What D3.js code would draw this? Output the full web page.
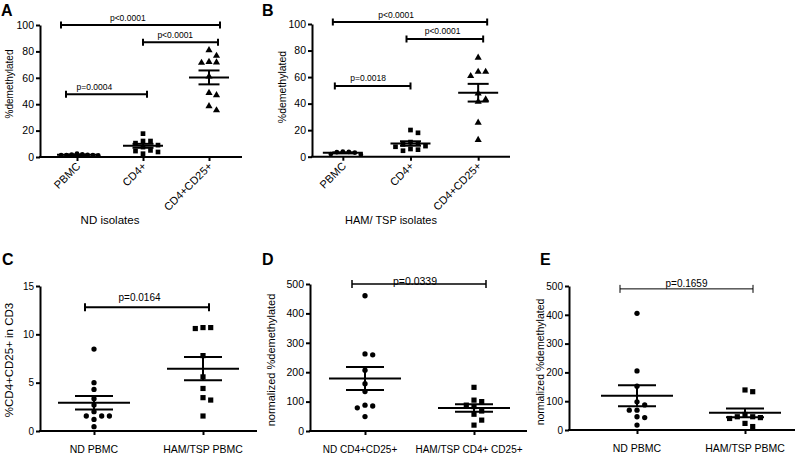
<!DOCTYPE html>
<html><head><meta charset="utf-8">
<script src="https://cdn.jsdelivr.net/npm/d3@7"></script>
<style>
body{margin:0;background:#fff}
svg{display:block}
text{font-family:"Liberation Sans",Arial,Helvetica,sans-serif;fill:#000}
</style>
</head><body>
<svg id="chart" width="800" height="463"></svg>
<script>
// ---------------- DATA ----------------
const catsIsolates = ["PBMC", "CD4+", "CD4+CD25+"];
const ticksPct = [0, 20, 40, 60, 80, 100];

// Panel A – ND isolates (%demethylated)
const aPBMC = [2.6, 2.0, 1.8, 1.6, 1.5, 1.5, 1.4, 1.3];
const aCD4 = [17.7, 12.1, 12.1, 10.5, 9, 7.5, 5, 4.5, 3.8, 2.5];
const aCD4CD25 = [81, 76.7, 72, 71.6, 71.4, 61, 48.6, 46.8, 38.5, 35.4];
const aBrFrom = ["PBMC", "CD4+", "PBMC"];
const aBrTo = ["CD4+CD25+", "CD4+CD25+", "CD4+"];
const aBrLevel = [100, 87, 47.5];
const aBrLabel = ["p<0.0001", "p<0.0001", "p=0.0004"];

// Panel B – HAM/TSP isolates (%demethylated)
const bPBMC = [3.8, 3.6, 3.4, 3.0, 2.0, 1.5];
const bCD4 = [20.1, 18, 11, 10, 9.3, 8, 7.5, 5.8, 4.5, 5.3];
const bCD4CD25 = [74.6, 64, 64, 60.8, 47.7, 43.2, 41.5, 25.6, 12.6];
const bBrFrom = ["PBMC", "CD4+", "PBMC"];
const bBrTo = ["CD4+CD25+", "CD4+CD25+", "CD4+"];
const bBrLevel = [101.5, 88.7, 53.3];
const bBrLabel = ["p<0.0001", "p<0.0001", "p=0.0018"];

// Panel C – %CD4+CD25+ in CD3
const catsC = ["ND PBMC", "HAM/TSP PBMC"];
const ticksC = [0, 5, 10, 15];
const cND = [8.48, 5.0, 4.3, 3.34, 2.7, 2.0, 1.55, 1.55, 1.55, 1.2, 0.45];
const cHAM = [10.7, 10.6, 10.7, 7.8, 5.6, 4.4, 3.45, 3.2, 1.55];
const cBrLevel = [12.8];
const cBrLabel = ["p=0.0164"];

// Panel D – normalized %demethylated, CD4+CD25+
const catsD = ["ND CD4+CD25+", "HAM/TSP CD4+ CD25+"];
const ticksNorm = [0, 100, 200, 300, 400, 500];
const dND = [460, 259, 262, 207, 161, 134, 85, 79, 88, 49];
const dHAM = [148.5, 105, 100, 88, 83, 68, 57, 37, 20];
const dBrLevel = [500];
const dBrLabel = ["p=0.0339"];

// Panel E – normalized %demethylated, PBMC
const catsE = ["ND PBMC", "HAM/TSP PBMC"];
const eND = [405, 205, 152, 87, 98, 69, 69, 46, 43, 17];
const eHAM = [133, 139, 46, 46, 54, 43, 23, 12, 40];
const eBrLevel = [490];
const eBrLabel = ["p=0.1659"];

// ---------------- DRAWING ----------------
const svg = d3.select("#chart");
svg.append("rect").attr("width", 800).attr("height", 463).attr("fill", "#fff");

function dodge(vals, y, step, thresh) {
  const order = vals.map((v, i) => i).sort((a, b) => vals[b] - vals[a]);
  const placed = [];
  const off = new Array(vals.length);
  for (const i of order) {
    const py = y(vals[i]);
    let done = false;
    for (let k = 0; !done && k < 50; k++) {
      const cands = k === 0 ? [0] : [k, -k];
      for (const c of cands) {
        const ox = c * step;
        const hit = placed.some(p => Math.abs(p.y - py) < thresh && Math.abs(p.x - ox) < step * 0.99);
        if (!hit) { off[i] = ox; placed.push({x: ox, y: py}); done = true; break; }
      }
    }
  }
  return off;
}

function panel(o) {
  const g = svg.append("g");
  const y = d3.scaleLinear().domain(o.domain).range([o.yBottom, o.yTop]);
  const x = d3.scalePoint().domain(o.cats).range(o.xr).padding(0.5);

  // Y axis
  const ya = g.append("g").attr("transform", `translate(${o.ax0},0)`)
    .call(d3.axisLeft(y).tickValues(o.ticks).tickSize(4).tickSizeOuter(0).tickPadding(2));
  ya.select(".domain").attr("stroke-width", 2).attr("stroke", "#000");
  ya.selectAll(".tick line").attr("stroke-width", 2).attr("stroke", "#000");
  ya.selectAll(".tick text").attr("font-size", o.tickFont).attr("font-family", null).attr("fill", "#000");

  // X axis
  const xa = g.append("g").attr("transform", `translate(0,${o.yBottom})`)
    .call(d3.axisBottom(x).tickSize(4).tickSizeOuter(0).tickFormat(""));
  xa.select(".domain").remove();
  xa.selectAll(".tick line").attr("stroke-width", 2).attr("stroke", "#000");
  g.append("line").attr("x1", o.ax0 - 1).attr("x2", o.ax1).attr("y1", o.yBottom).attr("y2", o.yBottom)
    .attr("stroke", "#000").attr("stroke-width", 2);

  // X labels
  o.cats.forEach(c => {
    if (o.rotLabels) {
      g.append("text").attr("text-anchor", "end").attr("font-size", o.xFont)
        .attr("transform", `translate(${x(c) + 4},${o.yBottom + 10}) rotate(-45)`).text(c);
    } else {
      g.append("text").attr("text-anchor", "middle").attr("font-size", o.xFont)
        .attr("x", x(c) + (o.xLabelShift || 0)).attr("y", o.yBottom + 22).text(c);
    }
  });

  // Points
  o.series.forEach((vals, gi) => {
    const c = o.cats[gi];
    const sym = o.symbols[gi];
    const offs = dodge(vals, y, o.steps[gi], o.thresh);
    g.append("g").selectAll("path").data(vals).join("path")
      .attr("d", d3.symbol().type(sym.type).size(sym.size))
      .attr("transform", (d, i) => `translate(${x(c) + offs[i]},${y(d)})`)
      .attr("fill", "#000");
    const m = d3.mean(vals);
    const s = d3.deviation(vals) / Math.sqrt(vals.length);
    const cx = x(c);
    const lw = o.meanW;
    g.append("line").attr("x1", cx - o.mh).attr("x2", cx + o.mh).attr("y1", y(m)).attr("y2", y(m))
      .attr("stroke", "#000").attr("stroke-width", lw);
    g.append("line").attr("x1", cx).attr("x2", cx).attr("y1", y(m - s)).attr("y2", y(m + s))
      .attr("stroke", "#000").attr("stroke-width", lw);
    [m - s, m + s].forEach(v => g.append("line").attr("x1", cx - o.sh).attr("x2", cx + o.sh)
      .attr("y1", y(v)).attr("y2", y(v)).attr("stroke", "#000").attr("stroke-width", lw));
  });

  // Brackets
  o.brLevel.forEach((lv, i) => {
    const xa0 = x(o.brFrom[i]) + o.brPad[i][0];
    const xb0 = x(o.brTo[i]) + o.brPad[i][1];
    const yy = y(lv);
    const bg = g.append("g").attr("stroke", "#000").attr("stroke-width", o.brW);
    bg.append("line").attr("x1", xa0).attr("x2", xb0).attr("y1", yy).attr("y2", yy);
    bg.append("line").attr("x1", xa0).attr("x2", xa0).attr("y1", yy - o.capH).attr("y2", yy + o.capH);
    bg.append("line").attr("x1", xb0).attr("x2", xb0).attr("y1", yy - o.capH).attr("y2", yy + o.capH);
    g.append("text").attr("text-anchor", "middle").attr("font-size", o.pFont)
      .attr("x", xa0 + o.brLp[i] * (xb0 - xa0)).attr("y", yy - o.pGap).text(o.brLabel[i]);
  });

  // Y label
  g.append("text").attr("text-anchor", "middle").attr("font-size", o.yFont)
    .attr("transform", `translate(${o.yLabX},${o.yLabY}) rotate(-90)`).text(o.yLabel);

  // Panel letter
  g.append("text").attr("x", o.letterX).attr("y", o.letterY).attr("font-size", 16)
    .attr("font-weight", "bold").text(o.letter);

  if (o.title) {
    g.append("text").attr("text-anchor", "middle").attr("font-size", o.titleFont)
      .attr("x", o.titleX).attr("y", o.titleY).text(o.title);
  }
}

const circ = {type: d3.symbolCircle, size: 18};
const sq = {type: d3.symbolSquare, size: 22};
const tri = {type: d3.symbolTriangle, size: 22};
const circL = {type: d3.symbolCircle, size: 22};
const sqL = {type: d3.symbolSquare, size: 27};

panel({
  letter: "A", letterX: 1, letterY: 16,
  cats: catsIsolates, series: [aPBMC, aCD4, aCD4CD25], symbols: [circ, sq, tri], steps: [5.3, 7.5, 7.5], thresh: 6,
  domain: [0, 100], ticks: ticksPct, yBottom: 157, yTop: 25, ax0: 40, ax1: 242, xr: [44, 242],
  tickFont: 10.5, xFont: 11, rotLabels: true, mh: 20, sh: 10.5, meanW: 2,
  brFrom: aBrFrom, brTo: aBrTo, brLevel: aBrLevel, brLabel: aBrLabel,
  brPad: [[-16, 11], [0, 9], [-11, 4]], brLp: [0.42, 0.43, 0.35], brW: 2, capH: 3.5, pFont: 8.5, pGap: 4.5,
  yLabel: "%demethylated", yFont: 10, yLabX: 13, yLabY: 84,
  title: "ND isolates", titleX: 110, titleY: 224, titleFont: 11.5
});

panel({
  letter: "B", letterX: 262, letterY: 16,
  cats: catsIsolates, series: [bPBMC, bCD4, bCD4CD25], symbols: [circ, sq, tri], steps: [6, 7.5, 7.5], thresh: 6,
  domain: [0, 100], ticks: ticksPct, yBottom: 156.7, yTop: 24, ax0: 312, ax1: 510, xr: [309, 512],
  tickFont: 10.5, xFont: 11, rotLabels: true, mh: 20, sh: 10.5, meanW: 2,
  brFrom: bBrFrom, brTo: bBrTo, brLevel: bBrLevel, brLabel: bBrLabel,
  brPad: [[-10, 9], [-4, 5], [-8, 0]], brLp: [0.41, 0.47, 0.44], brW: 2, capH: 3.5, pFont: 8.5, pGap: 4.5,
  yLabel: "%demethylated", yFont: 10.5, yLabX: 286, yLabY: 87,
  title: "HAM/ TSP isolates", titleX: 391, titleY: 224, titleFont: 11
});

panel({
  letter: "C", letterX: 2, letterY: 265,
  cats: catsC, series: [cND, cHAM], symbols: [circL, sqL], steps: [7.7, 7.7], thresh: 6,
  domain: [0, 15], ticks: ticksC, yBottom: 431, yTop: 286, ax0: 40, ax1: 257, xr: [39.5, 257.5],
  tickFont: 10, xFont: 10.5, rotLabels: false, mh: 36, sh: 19, meanW: 2,
  brFrom: ["ND PBMC"], brTo: ["HAM/TSP PBMC"], brLevel: cBrLevel, brLabel: cBrLabel,
  brPad: [[-9, 6]], brLp: [0.44], brW: 2, capH: 4, pFont: 10, pGap: 6.5,
  yLabel: "%CD4+CD25+ in CD3", yFont: 11.5, yLabX: 13, yLabY: 360
});

panel({
  letter: "D", letterX: 262, letterY: 265,
  cats: catsD, series: [dND, dHAM], symbols: [circL, sqL], steps: [7.7, 7.7], thresh: 6,
  domain: [0, 500], ticks: ticksNorm, yBottom: 431, yTop: 284, ax0: 310, ax1: 527, xr: [310.5, 528.5],
  tickFont: 10.5, xFont: 10, rotLabels: false, xLabelShift: -5, mh: 36, sh: 19, meanW: 2,
  brFrom: ["ND CD4+CD25+"], brTo: ["HAM/TSP CD4+ CD25+"], brLevel: dBrLevel, brLabel: dBrLabel,
  brPad: [[-13, 12]], brLp: [0.47], brW: 1.5, capH: 4, pFont: 10.5, pGap: -0.5,
  yLabel: "normalized %demethylated", yFont: 11, yLabX: 275, yLabY: 360
});

panel({
  letter: "E", letterX: 540, letterY: 265,
  cats: catsE, series: [eND, eHAM], symbols: [circL, sqL], steps: [7.7, 7.7], thresh: 6,
  domain: [0, 500], ticks: ticksNorm, yBottom: 430, yTop: 286, ax0: 569, ax1: 795, xr: [583, 799],
  tickFont: 10, xFont: 10.5, rotLabels: false, mh: 36, sh: 19, meanW: 2,
  brFrom: ["ND PBMC"], brTo: ["HAM/TSP PBMC"], brLevel: eBrLevel, brLabel: eBrLabel,
  brPad: [[-17, 8]], brLp: [0.5], brW: 1, capH: 4, pFont: 10, pGap: 1.5,
  yLabel: "normalized %demethylated", yFont: 10.5, yLabX: 544, yLabY: 362
});
</script>
</body></html>
